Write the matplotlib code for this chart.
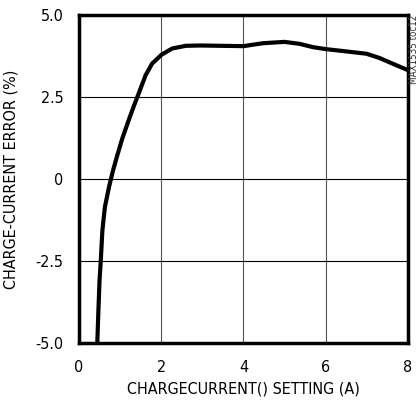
import matplotlib
matplotlib.use("Agg")
import matplotlib.pyplot as plt

plt.rcParams['font.family'] = ['DejaVu Sans']
plt.rcParams['font.stretch'] = 'condensed'

# charge current setting (A) vs error (%)
setting = [0.446, 0.47, 0.50, 0.53, 0.57, 0.63, 0.73, 0.82, 0.93, 1.05,
           1.22, 1.34, 1.46, 1.62, 1.78, 2.01, 2.27, 2.60, 2.94, 3.47, 4.0,
           4.48, 5.0, 5.37, 5.69, 6.0, 6.5, 6.99, 7.31, 7.64, 8.0]
error = [-5.0, -4.12, -3.10, -2.5, -1.57, -0.86, -0.25, 0.22, 0.71, 1.22,
         1.83, 2.24, 2.63, 3.16, 3.52, 3.79, 3.98, 4.06, 4.07, 4.06, 4.05,
         4.14, 4.18, 4.12, 4.02, 3.96, 3.89, 3.82, 3.69, 3.51, 3.32]

xticks = [0, 2, 4, 6, 8]
yticks = [-5.0, -2.5, 0, 2.5, 5.0]
ytick_labels = ['-5.0', '-2.5', '0', '2.5', '5.0']

fig = plt.figure(figsize=(4.2, 4.05), dpi=100)
ax = fig.add_axes([0.188, 0.153, 0.783, 0.810])

ax.plot(setting, error, color='black', lw=3, solid_capstyle='butt',
        solid_joinstyle='round')

ax.set_xlim(0, 8)
ax.set_ylim(-5, 5)
ax.set_xticks(xticks)
ax.set_yticks(yticks)
ax.set_yticklabels(ytick_labels)
ax.tick_params(axis='x', length=0, labelsize=11.5, pad=12)
ax.tick_params(axis='y', length=0, labelsize=11.5, pad=11)
ax.grid(True, color='black', lw=0.8)
for g in ax.get_xgridlines():
    g.set_color('#555555')
ax.set_axisbelow(True)
for s in ax.spines.values():
    s.set_linewidth(2.5)

ax.set_xlabel('CHARGECURRENT() SETTING (A)', fontsize=11.5, labelpad=5)
ax.set_ylabel('CHARGE-CURRENT ERROR (%)', fontsize=11.5, labelpad=12)

fig.text(0.985, 0.963, 'MAX1535 toc12', rotation=90, fontsize=7,
         ha='center', va='top', color='#333333')

fig.savefig('out.png', dpi=100)
